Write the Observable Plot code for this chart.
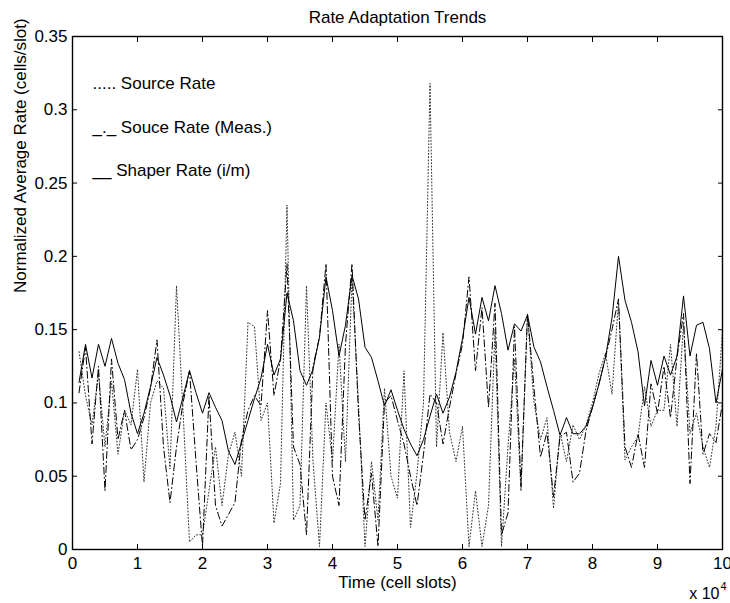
<!DOCTYPE html>
<html>
<head>
<meta charset="utf-8">
<script src="https://cdn.jsdelivr.net/npm/d3@7"></script>
<script src="https://cdn.jsdelivr.net/npm/@observablehq/plot@0.6"></script>
<style>
  html, body { margin: 0; padding: 0; background: #fff; }
  #chart { width: 730px; height: 603px; }
</style>
</head>
<body>
<div id="chart"></div>
<script>
// Sampling times (cell slots)
const time = d3.range(1000, 100001, 1000);

// Source Rate (dotted)
const sourceRate = [
  0.135, 0.105, 0.085, 0.120, 0.070, 0.115, 0.065, 0.095, 0.085, 0.123,
  0.046, 0.100, 0.115, 0.110, 0.055, 0.180, 0.095, 0.005, 0.010, 0.010,
  0.040, 0.070, 0.030, 0.065, 0.080, 0.050, 0.155, 0.152, 0.088, 0.100,
  0.018, 0.045, 0.235, 0.020, 0.030, 0.180, 0.060, 0.002, 0.100, 0.060,
  0.140, 0.060, 0.185, 0.100, 0.002, 0.060, 0.020, 0.110, 0.050, 0.035,
  0.122, 0.015, 0.052, 0.100, 0.318, 0.070, 0.148, 0.080, 0.060, 0.084,
  0.002, 0.040, 0.002, 0.030, 0.150, 0.002, 0.070, 0.130, 0.040, 0.160,
  0.100, 0.075, 0.090, 0.028, 0.080, 0.060, 0.085, 0.075, 0.085, 0.100,
  0.120, 0.134, 0.106, 0.170, 0.061, 0.070, 0.077, 0.111, 0.084, 0.095,
  0.095, 0.140, 0.084, 0.154, 0.079, 0.093, 0.070, 0.056, 0.084, 0.150
];

// Souce Rate (Meas.) (dash-dot)
const measRate = [
  0.107, 0.138, 0.072, 0.125, 0.040, 0.130, 0.075, 0.095, 0.068, 0.075,
  0.090, 0.110, 0.143, 0.070, 0.032, 0.070, 0.100, 0.122, 0.060, 0.002,
  0.105, 0.030, 0.016, 0.024, 0.032, 0.075, 0.095, 0.105, 0.098, 0.163,
  0.105, 0.130, 0.195, 0.070, 0.058, 0.010, 0.125, 0.145, 0.195, 0.050,
  0.030, 0.140, 0.195, 0.093, 0.020, 0.052, 0.002, 0.100, 0.105, 0.088,
  0.072, 0.050, 0.030, 0.065, 0.106, 0.100, 0.072, 0.097, 0.120, 0.140,
  0.186, 0.122, 0.165, 0.097, 0.168, 0.010, 0.025, 0.152, 0.043, 0.161,
  0.110, 0.063, 0.080, 0.036, 0.077, 0.080, 0.046, 0.052, 0.081, 0.097,
  0.113, 0.131, 0.150, 0.171, 0.070, 0.056, 0.079, 0.056, 0.113, 0.093,
  0.125, 0.090, 0.131, 0.161, 0.045, 0.134, 0.065, 0.079, 0.073, 0.100
];

// Shaper Rate (i/m) (solid)
const shaperRate = [
  0.114, 0.140, 0.117, 0.140, 0.125, 0.144, 0.127, 0.116, 0.093, 0.079,
  0.093, 0.111, 0.131, 0.119, 0.105, 0.087, 0.104, 0.122, 0.107, 0.093,
  0.107, 0.097, 0.088, 0.067, 0.058, 0.073, 0.088, 0.103, 0.117, 0.140,
  0.119, 0.130, 0.175, 0.156, 0.122, 0.112, 0.123, 0.145, 0.186, 0.163,
  0.132, 0.153, 0.187, 0.171, 0.138, 0.131, 0.115, 0.098, 0.109, 0.095,
  0.082, 0.072, 0.064, 0.075, 0.091, 0.106, 0.093, 0.104, 0.121, 0.144,
  0.172, 0.147, 0.172, 0.156, 0.180, 0.161, 0.136, 0.154, 0.149, 0.160,
  0.138, 0.128, 0.111, 0.095, 0.078, 0.090, 0.079, 0.079, 0.084, 0.097,
  0.113, 0.131, 0.158, 0.200, 0.170, 0.155, 0.135, 0.098, 0.129, 0.112,
  0.132, 0.119, 0.132, 0.173, 0.132, 0.153, 0.155, 0.137, 0.100, 0.123
];

const xTicks = [0, 10000, 20000, 30000, 40000, 50000, 60000, 70000, 80000, 90000, 100000];
const yTicks = [0, 0.05, 0.1, 0.15, 0.2, 0.25, 0.3, 0.35];
const legendLabels = ["..... Source Rate", "_._ Souce Rate (Meas.)", "__ Shaper Rate (i/m)"];

const rows = v => time.map((t, i) => ({t, v: v[i]}));

const font = "'Liberation Sans', Arial, Helvetica, sans-serif";
const fs = 17;

const chart = Plot.plot({
  width: 730,
  height: 603,
  marginLeft: 72,
  marginRight: 8,
  marginTop: 36,
  marginBottom: 54,
  style: {fontFamily: font, fontSize: fs + "px", background: "#fff", color: "#000", overflow: "visible"},
  x: {domain: [0, 100000], label: null},
  y: {domain: [0, 0.35], label: null},
  marks: [
    Plot.lineY(rows(sourceRate), {x: "t", y: "v", stroke: "#333", strokeWidth: 1, strokeDasharray: "1,2.2"}),
    Plot.lineY(rows(measRate), {x: "t", y: "v", stroke: "#000", strokeWidth: 1, strokeDasharray: "7,3,1,3"}),
    Plot.lineY(rows(shaperRate), {x: "t", y: "v", stroke: "#000", strokeWidth: 1}),
    Plot.frame({stroke: "#000", strokeWidth: 1.4}),
    // inward ticks on all four sides
    Plot.axisX({ticks: xTicks, tickSize: -5, text: null, anchor: "bottom", strokeWidth: 1}),
    Plot.axisX({ticks: xTicks, tickSize: -5, text: null, anchor: "top", strokeWidth: 1}),
    Plot.axisY({ticks: yTicks, tickSize: -5, text: null, anchor: "left", strokeWidth: 1}),
    Plot.axisY({ticks: yTicks, tickSize: -5, text: null, anchor: "right", strokeWidth: 1}),
    // tick labels
    Plot.axisX({ticks: xTicks, tickSize: 0, tickPadding: 7, tickFormat: d => String(d / 10000), anchor: "bottom", fontSize: fs}),
    Plot.axisY({ticks: yTicks, tickSize: 0, tickPadding: 5, tickFormat: d => String(+d.toFixed(2)), anchor: "left", fontSize: fs}),
    // legend (text inside axes)
    Plot.text([legendLabels[0]], {text: d => d, frameAnchor: "top-left", dx: 20, dy: 47, textAnchor: "start", lineAnchor: "middle", fontSize: fs}),
    Plot.text([legendLabels[1]], {text: d => d, frameAnchor: "top-left", dx: 20, dy: 91, textAnchor: "start", lineAnchor: "middle", fontSize: fs}),
    Plot.text([legendLabels[2]], {text: d => d, frameAnchor: "top-left", dx: 20, dy: 134, textAnchor: "start", lineAnchor: "middle", fontSize: fs}),
    // title and axis labels
    Plot.text(["Rate Adaptation Trends"], {text: d => d, frameAnchor: "top", dy: -19, lineAnchor: "middle", fontSize: fs}),
    Plot.text(["Time (cell slots)"], {text: d => d, frameAnchor: "bottom", dy: 33, lineAnchor: "middle", fontSize: fs}),
    Plot.text(["Normalized Average Rate (cells/slot)"], {text: d => d, frameAnchor: "left", dx: -52, rotate: -90, lineAnchor: "middle", fontSize: fs}),
    Plot.text(["x 10"], {text: d => d, frameAnchor: "bottom-right", dx: -3, dy: 44, textAnchor: "end", lineAnchor: "middle", fontSize: fs - 1}),
    Plot.text(["4"], {text: d => d, frameAnchor: "bottom-right", dx: -2, dy: 37, textAnchor: "start", lineAnchor: "middle", fontSize: 11})
  ]
});

document.getElementById("chart").appendChild(chart);
</script>
</body>
</html>
